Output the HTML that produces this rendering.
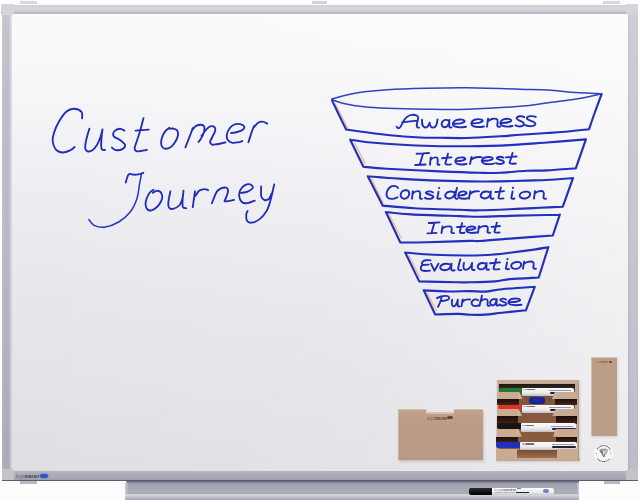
<!DOCTYPE html>
<html><head><meta charset="utf-8"><style>
html,body{margin:0;padding:0;width:640px;height:501px;overflow:hidden;background:#fdfdfd;font-family:"Liberation Sans",sans-serif;}
.a{position:absolute;}
#board{left:11px;top:14px;width:618px;height:458px;background:linear-gradient(180deg,#fafafc 0%,#f9f9fb 9%,#eeeef2 38%,#e6e6eb 64%,#e0e0e5 90%,#dedee3 100%);}
#hl{left:11px;top:14px;width:618px;height:458px;background:linear-gradient(90deg,rgba(255,255,255,0) 0%,rgba(255,255,255,0.12) 50%,rgba(255,255,255,0.42) 100%);}
.fr{background:#cbccd4;}
</style></head><body>
<!-- top tabs -->
<div class="a" style="left:20px;top:1px;width:17px;height:3px;background:#d8d8dc;"></div>
<div class="a" style="left:603px;top:1px;width:17px;height:3px;background:#d8d8dc;"></div>
<div id="board" class="a"></div>
<div id="hl" class="a"></div>
<!-- frame -->
<div class="a" style="left:312px;top:1px;width:15px;height:3px;background:#d2d2d8;"></div>
<div class="a" style="left:1px;top:4.5px;width:637px;height:9.5px;background:linear-gradient(180deg,#d0d0da 0%,#d5d5de 35%,#d0d0da 65%,#bdbdc9 85%,#b5b5c1 100%);"></div>
<div class="a" style="left:1.7px;top:4px;width:10px;height:477px;background:linear-gradient(90deg,rgba(255,255,255,0.1) 0%,rgba(255,255,255,0) 30%,rgba(255,255,255,0) 68%,rgba(255,255,255,0.4) 90%,rgba(255,255,255,0.45) 100%),linear-gradient(180deg,#c6c6d0 0%,#bdbdc9 20%,#b7b8c3 52%,#adaeb9 84%,#a9aab5 100%);"></div>
<div class="a" style="left:628px;top:4px;width:10px;height:477px;background:linear-gradient(90deg,rgba(0,0,0,0.07) 0%,rgba(0,0,0,0) 20%,rgba(0,0,0,0) 80%,rgba(0,0,0,0.02) 100%),linear-gradient(180deg,#cfcfd8 0%,#cbcbd5 15%,#c6c6d0 50%,#c0c0cc 84%,#bcbcc8 100%);"></div>
<div class="a" style="left:1.5px;top:471px;width:636.5px;height:9px;background:linear-gradient(180deg,#b4b6c1 0%,#aaacb8 30%,#a6a8b4 80%,#9a9ca8 100%);"></div>
<div class="a" style="left:1.5px;top:480px;width:636.5px;height:1.3px;background:#5a5d6d;"></div>
<!-- corners -->
<div class="a" style="left:1.5px;top:3.5px;width:12.5px;height:11.5px;background:#d4d4d9;border-bottom-right-radius:3px;"></div>
<div class="a" style="left:625.5px;top:3.5px;width:12.5px;height:11.5px;background:#d4d4d9;border-bottom-left-radius:3px;"></div>
<div class="a" style="left:1.5px;top:468.5px;width:12.5px;height:11.5px;background:#c3c4ca;border-top-right-radius:3px;"></div>
<div class="a" style="left:625.5px;top:468.5px;width:12.5px;height:11.5px;background:#c3c4ca;border-top-left-radius:3px;"></div>
<!-- bottom tabs -->
<div class="a" style="left:20px;top:481px;width:17px;height:3px;background:#b9bac1;"></div>
<div class="a" style="left:603.5px;top:481px;width:16px;height:3px;background:#b9bac1;"></div>
<!-- tray -->
<div class="a" style="left:125px;top:481px;width:454px;height:19px;clip-path:polygon(0.3% 0,100% 0,100% 100%,0 100%);background:linear-gradient(180deg,#5e6172 0%,#7c7f8e 6%,#a0a2ae 14%,#a6a8b4 40%,#aaacb7 62%,#a8aab5 68%,#cfd1d8 70%,#d2d4db 77%,#bfc1ca 84%,#b5b7c1 92%,#a0a2ad 100%);"></div>
<div class="a" style="left:125px;top:483px;width:3px;height:11px;background:linear-gradient(90deg,#c9cbd2,#b0b2bc);"></div>
<div class="a" style="left:576.5px;top:483px;width:2.5px;height:11px;background:linear-gradient(90deg,#b0b2bc,#d0d2d8);"></div>

<!-- eraser box -->
<div class="a" style="left:399px;top:410.5px;width:85px;height:51px;background:rgba(80,70,70,0.2);filter:blur(1px);"></div>
<div class="a" style="left:426.3px;top:407px;width:27.7px;height:5.5px;background:#e7e7eb;"></div>
<div class="a" style="left:397.5px;top:408.6px;width:85.5px;height:51.6px;background:linear-gradient(180deg,#c2a38d 0%,#bc9c86 20%,#bb9b85 80%,#b89882 100%);clip-path:polygon(0 0,33.6% 0,33.6% 7.6%,66% 7.6%,66% 0,100% 0,100% 100%,0 100%);"></div>
<div class="a" style="left:397.5px;top:408.6px;width:28.8px;height:1px;background:#d6bea9;"></div>
<div class="a" style="left:454px;top:408.6px;width:29px;height:1px;background:#d6bea9;"></div>
<div class="a" style="left:426.3px;top:412.5px;width:27.7px;height:1px;background:#d8c0aa;"></div>
<div class="a" style="left:397.5px;top:408.6px;width:1px;height:51.6px;background:#cbb09a;"></div>
<div class="a" style="left:426.5px;top:416.2px;font-size:4.6px;line-height:5px;letter-spacing:-0.1px;color:#5e4436;white-space:nowrap;opacity:0.95;transform:scaleX(0.9);transform-origin:0 0;"><span style="opacity:0.6">lega</span><b>master</b></div>
<div class="a" style="left:447px;top:416.3px;width:6px;height:3px;border-radius:50%;background:#5a4035;"></div>
<!-- right plate -->
<div class="a" style="left:590.5px;top:356.5px;width:26.5px;height:79px;background:#bc9e88;box-shadow:1px 1px 2px rgba(0,0,0,0.12);"></div>
<div class="a" style="left:590.5px;top:356.5px;width:26.5px;height:1px;background:#dcc6b2;"></div>
<div class="a" style="left:590.5px;top:356.5px;width:1px;height:79px;background:#d4bca6;"></div>
<div class="a" style="left:596px;top:361.2px;font-size:3.2px;line-height:3.5px;color:#6a4e40;white-space:nowrap;opacity:0.85;transform:scaleX(0.76);transform-origin:0 0;"><span style="opacity:0.6">lega</span><b>master</b></div>
<div class="a" style="left:608.6px;top:360.6px;width:3.6px;height:2.2px;border-radius:50%;background:#5a4035;"></div>
<!-- sticker -->
<svg class="a" style="left:590px;top:440px" width="28" height="28" viewBox="590 440 28 28">
<ellipse cx="603.8" cy="453.8" rx="10.6" ry="10.2" fill="#d8d8dc" opacity="0.6"/>
<ellipse cx="603.6" cy="453.6" rx="10.2" ry="9.9" fill="#f6f6f6"/>
<path d="M597.2,449.2 A7.4,7.2 0 0 1 610.2,449.4" fill="none" stroke="#6a6a6a" stroke-width="1.1" stroke-dasharray="1.3 0.5"/>
<path d="M597.6,458.6 A7.4,7.2 0 0 0 609.8,458.4" fill="none" stroke="#6a6a6a" stroke-width="1.1" stroke-dasharray="1.3 0.5"/>
<circle cx="596.3" cy="453.5" r="0.5" fill="#777"/><circle cx="611" cy="453.3" r="0.5" fill="#777"/>
<circle cx="596.9" cy="455.8" r="0.4" fill="#888"/><circle cx="610.5" cy="451.2" r="0.4" fill="#888"/>
<path d="M599.8,450.2 L601.6,449.2 L606,449.2 L607.6,450.4 L603.8,457 Z" fill="#e8ece8" stroke="#3d3d3d" stroke-width="0.6"/>
<path d="M599.8,450.2 L602.4,450.6 L603.8,457 Z" fill="#4d7a56"/>
<path d="M602.4,450.6 L605.2,450.6 L603.8,457 M601.6,449.2 L602.4,450.6 M606,449.2 L605.2,450.6" fill="none" stroke="#555" stroke-width="0.4"/>
</svg>
<!-- marker holder -->
<div class="a" style="left:497px;top:381px;width:83px;height:81px;background:rgba(60,50,50,0.18);filter:blur(1px);"></div>
<div class="a" style="left:496px;top:379.7px;width:83px;height:81.3px;background:#c4a68f;clip-path:polygon(2% 0,97.5% 0,100% 100%,0 100%);"></div>
<div class="a" style="left:499px;top:383.5px;width:75.5px;height:74.5px;background:linear-gradient(180deg,#74482f,#86583d 30%,#8a5c40 100%);"></div>
<div class="a" style="left:499px;top:383.5px;width:75.5px;height:5px;background:linear-gradient(180deg,#1e1612,#3a2a20);"></div>
<div class="a" style="left:499px;top:388px;width:23.5px;height:4.6px;background:#1f7a30;border-radius:2px 0 0 2px;"></div>
<div class="a" style="left:521.5px;top:387.5px;width:52.5px;height:8.2px;background:linear-gradient(180deg,#fbfbfb 0%,#eeeef0 55%,#d4d4d8 85%,#b8b8bc 100%);border-radius:1px 2px 2px 1px;"></div>
<div class="a" style="left:523.0px;top:389.1px;width:12px;height:1.3px;background:linear-gradient(90deg,#b0b0b8 0 30%,#707078 30%);"></div>
<div class="a" style="left:549px;top:389.7px;width:22px;height:1.1px;background:#8d96d4;"></div>
<div class="a" style="left:549.5px;top:391.8px;width:7px;height:1.8px;background:#232325;border-radius:1px;"></div>
<div class="a" style="left:497.6px;top:392px;width:20.7px;height:7.0px;background:#c9ab94;"></div>
<div class="a" style="left:517.8px;top:392px;width:5px;height:7.0px;background:linear-gradient(90deg,#d6bca6,#b89a82);clip-path:polygon(0 0,30% 0,100% 100%,0 100%);"></div>
<div class="a" style="left:555.7px;top:392px;width:21.3px;height:7.0px;background:#c9ab94;"></div>
<div class="a" style="left:551.7px;top:392px;width:4.5px;height:7.0px;background:linear-gradient(90deg,#b89a82,#d2b8a2);clip-path:polygon(70% 0,100% 0,100% 100%,0 100%);"></div>
<div class="a" style="left:497.2px;top:399px;width:21.8px;height:6.0px;background:linear-gradient(180deg,#1a0e0a,#321810 60%,#4a2618);"></div>
<div class="a" style="left:555px;top:399px;width:21.6px;height:6.0px;background:linear-gradient(180deg,#1a0e0a,#34190f 60%,#4e2a1c);"></div>
<div class="a" style="left:498px;top:404.5px;width:24.5px;height:4.7px;background:#e0321e;border-radius:2px 0 0 2px;"></div>
<div class="a" style="left:521.5px;top:404.5px;width:52.5px;height:8.7px;background:linear-gradient(180deg,#fbfbfb 0%,#eeeef0 55%,#d4d4d8 85%,#b8b8bc 100%);border-radius:1px 2px 2px 1px;"></div>
<div class="a" style="left:523.0px;top:406.1px;width:12px;height:1.3px;background:linear-gradient(90deg,#b0b0b8 0 30%,#707078 30%);"></div>
<div class="a" style="left:549px;top:406.7px;width:22px;height:1.1px;background:#8d96d4;"></div>
<div class="a" style="left:549.5px;top:408.8px;width:7px;height:1.8px;background:#232325;border-radius:1px;"></div>
<div class="a" style="left:497.2px;top:409.4px;width:20.8px;height:7.0px;background:#c9ab94;"></div>
<div class="a" style="left:517.5px;top:409.4px;width:5px;height:7.0px;background:linear-gradient(90deg,#d6bca6,#b89a82);clip-path:polygon(0 0,30% 0,100% 100%,0 100%);"></div>
<div class="a" style="left:556px;top:409.4px;width:21.6px;height:7.0px;background:#c9ab94;"></div>
<div class="a" style="left:552px;top:409.4px;width:4.5px;height:7.0px;background:linear-gradient(90deg,#b89a82,#d2b8a2);clip-path:polygon(70% 0,100% 0,100% 100%,0 100%);"></div>
<div class="a" style="left:496.6px;top:416.4px;width:21.9px;height:7.4px;background:linear-gradient(180deg,#1a0e0a,#321810 60%,#4a2618);"></div>
<div class="a" style="left:555.7px;top:416.4px;width:21.8px;height:7.4px;background:linear-gradient(180deg,#1a0e0a,#34190f 60%,#4e2a1c);"></div>
<div class="a" style="left:496.8px;top:423.3px;width:24.7px;height:5.5px;background:#161616;border-radius:2px 0 0 2px;"></div>
<div class="a" style="left:520.5px;top:423.3px;width:55.9px;height:8.3px;background:linear-gradient(180deg,#fbfbfb 0%,#eeeef0 55%,#d4d4d8 85%,#b8b8bc 100%);border-radius:1px 2px 2px 1px;"></div>
<div class="a" style="left:522.0px;top:424.90000000000003px;width:12px;height:1.3px;background:linear-gradient(90deg,#b0b0b8 0 30%,#707078 30%);"></div>
<div class="a" style="left:551.4px;top:425.5px;width:22px;height:1.1px;background:#8d96d4;"></div>
<div class="a" style="left:551.9px;top:427.6px;width:24px;height:2.2px;background:#232325;border-radius:1px;"></div>
<div class="a" style="left:496.6px;top:428.9px;width:20.9px;height:7.8px;background:#c9ab94;"></div>
<div class="a" style="left:517.0px;top:428.9px;width:5px;height:7.8px;background:linear-gradient(90deg,#d6bca6,#b89a82);clip-path:polygon(0 0,30% 0,100% 100%,0 100%);"></div>
<div class="a" style="left:556.7px;top:428.9px;width:21.8px;height:7.8px;background:#c9ab94;"></div>
<div class="a" style="left:552.7px;top:428.9px;width:4.5px;height:7.8px;background:linear-gradient(90deg,#b89a82,#d2b8a2);clip-path:polygon(70% 0,100% 0,100% 100%,0 100%);"></div>
<div class="a" style="left:496px;top:436.7px;width:22.0px;height:6.0px;background:linear-gradient(180deg,#1a0e0a,#321810 60%,#4a2618);"></div>
<div class="a" style="left:555.7px;top:436.7px;width:22.3px;height:6.0px;background:linear-gradient(180deg,#1a0e0a,#34190f 60%,#4e2a1c);"></div>
<div class="a" style="left:495.8px;top:442.2px;width:25.2px;height:5.6px;background:#1f30c0;border-radius:2px 0 0 2px;"></div>
<div class="a" style="left:520px;top:441.7px;width:56.6px;height:8.7px;background:linear-gradient(180deg,#fbfbfb 0%,#eeeef0 55%,#d4d4d8 85%,#b8b8bc 100%);border-radius:1px 2px 2px 1px;"></div>
<div class="a" style="left:521.5px;top:443.3px;width:12px;height:1.3px;background:linear-gradient(90deg,#b0b0b8 0 30%,#707078 30%);"></div>
<div class="a" style="left:551.6px;top:443.9px;width:22px;height:1.1px;background:#8d96d4;"></div>
<div class="a" style="left:552.1px;top:446.0px;width:24px;height:2.2px;background:#232325;border-radius:1px;"></div>
<div class="a" style="left:496px;top:448.6px;width:21.0px;height:9.2px;background:#c9ab94;"></div>
<div class="a" style="left:516.5px;top:448.6px;width:5px;height:9.2px;background:linear-gradient(90deg,#d6bca6,#b89a82);clip-path:polygon(0 0,30% 0,100% 100%,0 100%);"></div>
<div class="a" style="left:556.7px;top:448.6px;width:22.3px;height:9.2px;background:#c9ab94;"></div>
<div class="a" style="left:552.7px;top:448.6px;width:4.5px;height:9.2px;background:linear-gradient(90deg,#b89a82,#d2b8a2);clip-path:polygon(70% 0,100% 0,100% 100%,0 100%);"></div>
<div class="a" style="left:529px;top:396.5px;width:15.5px;height:7.5px;background:radial-gradient(ellipse at 50% 40%,#1c2cb0,#141f80);border-radius:3px;"></div>
<div class="a" style="left:517px;top:450.4px;width:40px;height:7.4px;background:linear-gradient(180deg,#7a4c34,#9a6e52);"></div>
<div class="a" style="left:495.5px;top:457.8px;width:84px;height:3.2px;background:#c7a991;"></div>
<div class="a" style="left:576.5px;top:380px;width:2.5px;height:80px;background:linear-gradient(90deg,#c8aa93,#b4967f);"></div>
<div class="a" style="left:496.5px;top:379.7px;width:81px;height:3.5px;background:#cbae97;"></div>
<!-- logo bottom-left -->
<div class="a" style="left:16.2px;top:472.6px;font-size:5.6px;line-height:6px;letter-spacing:-0.15px;color:#3a3b44;white-space:nowrap;opacity:0.95;transform:scaleX(0.85);transform-origin:0 0;"><span style="color:#6a6b76">lega</span><b>master</b></div>
<div class="a" style="left:40.2px;top:473.8px;width:7.6px;height:3.8px;border-radius:2px;background:#3456cc;box-shadow:0 0 0 0.5px #6f86d8;"></div>
<!-- marker in tray -->
<div class="a" style="left:468.6px;top:488px;width:24px;height:6.5px;background:linear-gradient(180deg,#2a2a2a,#111 60%,#000);border-radius:2px 0 0 2px;"></div>
<div class="a" style="left:492px;top:487.8px;width:62px;height:6.8px;background:linear-gradient(180deg,#fdfdfd,#ececef 60%,#c8c8ce);border-radius:0 2.5px 2.5px 0;"></div>
<div class="a" style="left:493.6px;top:488.4px;font-size:3.8px;line-height:4px;color:#555;white-space:nowrap;opacity:0.9;transform:scaleX(1.15);transform-origin:0 0;"><span style="color:#999">lega</span><b>master</b></div>
<div class="a" style="left:494px;top:492.2px;width:21px;height:0.8px;background:#b8b8be;"></div>
<div class="a" style="left:517px;top:488.3px;width:3.5px;height:1px;background:#6d7ad0;"></div>
<div class="a" style="left:516.3px;top:492px;width:12.5px;height:1.3px;background:#222;"></div>
<div class="a" style="left:542.8px;top:489px;width:6px;height:3.8px;border-radius:50%;background:#4466cc;opacity:0.8;"></div>
<svg class="a" style="left:0;top:0" width="640" height="501" viewBox="0 0 640 501">
<g fill="none" stroke-linecap="round" stroke-linejoin="round">
<path d="M335.20,103.75 L347.70,128.00 M354.80,143.30 L365.00,163.60 M371.25,178.60 L383.10,202.80 M389.40,215.20 L401.10,237.80 M409.00,255.60 L420.00,277.50 M427.00,293.10 L436.30,310.60" stroke="#ecbf96" stroke-width="1.5"/>
<path d="M332.00,98.80 C336.04,97.83 347.00,94.50 356.25,93.00 C365.50,91.50 376.04,90.58 387.50,89.80 C398.96,89.02 411.77,88.63 425.00,88.30 C438.23,87.97 451.07,87.65 466.90,87.80 C482.73,87.95 506.47,88.83 520.00,89.20 C533.53,89.57 538.73,89.43 548.10,90.00 C557.48,90.57 568.05,92.02 576.25,92.60 C584.45,93.18 593.07,93.25 597.30,93.50 C601.52,93.75 600.88,94.00 601.60,94.10 M332.00,99.80 C333.96,100.42 338.42,102.33 343.75,103.50 C349.08,104.67 356.71,106.00 364.00,106.80 C371.29,107.60 377.33,107.90 387.50,108.30 C397.67,108.70 411.77,109.03 425.00,109.20 C438.23,109.37 451.07,109.78 466.90,109.30 C482.73,108.82 506.47,107.40 520.00,106.30 C533.53,105.20 538.73,103.90 548.10,102.70 C557.48,101.50 568.75,100.25 576.25,99.10 C583.75,97.95 588.98,96.65 593.10,95.80 C597.23,94.95 599.68,94.30 601.00,94.00" stroke="#3340c2" stroke-width="1.55"/>
<path d="M332.00,100.40 C333.17,102.83 336.65,110.15 339.00,115.00 C341.35,119.85 344.92,127.08 346.10,129.50 M346.10,129.50 C349.08,129.92 357.10,131.08 364.00,132.00 C370.90,132.92 378.17,134.08 387.50,135.00 C396.83,135.92 411.25,137.03 420.00,137.50 C428.75,137.97 432.17,137.72 440.00,137.80 C447.83,137.88 457.00,138.25 467.00,138.00 C477.00,137.75 491.17,136.83 500.00,136.30 C508.83,135.77 512.17,135.35 520.00,134.80 C527.83,134.25 540.00,133.47 547.00,133.00 C554.00,132.53 555.00,132.63 562.00,132.00 C569.00,131.37 584.50,129.67 589.00,129.20 M601.60,94.10 C600.50,97.08 597.10,106.15 595.00,112.00 C592.90,117.85 590.00,126.33 589.00,129.20 M350.20,139.70 C353.71,140.17 362.53,141.65 371.25,142.50 C379.97,143.35 391.04,144.18 402.50,144.80 C413.96,145.42 423.75,146.07 440.00,146.20 C456.25,146.33 482.18,146.22 500.00,145.60 C517.82,144.98 532.58,143.53 546.90,142.50 C561.22,141.47 579.40,139.92 585.90,139.40 M350.20,139.70 L363.40,166.70 M363.40,166.70 C367.32,167.04 374.13,167.97 386.90,168.75 C399.67,169.53 424.48,170.72 440.00,171.40 C455.52,172.08 470.00,172.57 480.00,172.80 C490.00,173.03 492.18,173.13 500.00,172.80 C507.82,172.47 519.08,171.20 526.90,170.80 C534.72,170.40 538.75,170.82 546.90,170.40 C555.05,169.98 570.98,168.65 575.80,168.30 M585.90,139.40 L575.80,168.30 M367.80,176.25 C373.00,176.64 386.97,177.88 399.00,178.60 C411.03,179.32 426.50,180.12 440.00,180.60 C453.50,181.08 470.00,181.37 480.00,181.50 C490.00,181.63 492.18,181.55 500.00,181.40 C507.82,181.25 519.08,180.83 526.90,180.60 C534.72,180.37 539.22,180.42 546.90,180.00 C554.58,179.58 568.65,178.42 573.00,178.10 M367.80,176.25 L382.70,205.60 M382.70,205.60 C388.03,206.05 401.82,207.60 414.70,208.30 C427.58,209.00 449.12,209.47 460.00,209.80 C470.88,210.13 470.52,210.45 480.00,210.30 C489.48,210.15 506.90,209.32 516.90,208.90 C526.90,208.48 532.35,208.17 540.00,207.80 C547.65,207.43 559.00,206.88 562.80,206.70 M573.00,178.10 L562.80,206.70 M385.90,212.00 C390.12,212.40 398.90,213.72 411.25,214.40 C423.60,215.08 448.54,215.72 460.00,216.10 C471.46,216.48 470.52,216.78 480.00,216.70 C489.48,216.62 503.60,215.93 516.90,215.60 C530.20,215.27 552.65,214.85 559.80,214.70 M385.90,212.00 L400.30,242.50 M400.30,242.50 C404.73,242.45 415.28,242.47 426.90,242.20 C438.52,241.93 461.15,241.10 470.00,240.90 C478.85,240.70 472.18,241.47 480.00,241.00 C487.82,240.53 504.77,239.02 516.90,238.10 C529.03,237.18 546.82,235.93 552.80,235.50 M559.80,214.70 L552.80,235.50 M405.20,252.50 C410.00,252.88 423.20,254.30 434.00,254.80 C444.80,255.30 459.83,255.57 470.00,255.50 C480.17,255.43 488.35,254.85 495.00,254.40 C501.65,253.95 503.42,253.60 509.90,252.80 C516.38,252.00 527.50,250.53 533.90,249.60 C540.30,248.67 545.90,247.60 548.30,247.20 M405.20,252.50 L419.20,281.40 M419.20,281.40 C425.58,281.53 449.03,282.05 457.50,282.20 C465.97,282.35 463.75,282.43 470.00,282.30 C476.25,282.17 488.35,281.93 495.00,281.40 C501.65,280.87 502.62,279.75 509.90,279.10 C517.18,278.45 533.90,277.77 538.70,277.50 M548.30,247.20 L538.70,277.50 M423.75,290.40 C427.76,290.58 440.09,291.38 447.80,291.50 C455.51,291.62 463.80,291.08 470.00,291.10 C476.20,291.12 479.67,291.92 485.00,291.60 C490.33,291.28 493.72,290.00 502.00,289.20 C510.28,288.40 529.25,287.20 534.70,286.80 M423.75,290.40 L435.20,314.50 M435.20,314.50 C439.12,314.40 452.95,313.85 458.75,313.90 C464.55,313.95 465.62,314.68 470.00,314.80 C474.38,314.92 479.67,314.95 485.00,314.60 C490.33,314.25 495.18,313.42 502.00,312.70 C508.82,311.98 521.92,310.70 525.90,310.30 M534.70,286.80 L525.90,310.30" stroke="#2230bc" stroke-width="2.15"/>
<path d="M141.40,174.10 C141.08,175.82 140.25,180.30 139.50,184.40 C138.75,188.50 138.42,194.15 136.90,198.70 C135.38,203.25 133.43,207.82 130.40,211.70 C127.37,215.58 123.03,219.42 118.70,222.00 C114.37,224.58 108.50,226.65 104.40,227.20 C100.30,227.75 96.68,226.58 94.10,225.30 C91.52,224.02 89.77,220.47 88.90,219.50" stroke="#2636bc" stroke-width="1.5"/>
<path d="M82.10,118.40 C82.00,117.30 82.85,113.41 81.50,111.80 C80.15,110.19 76.50,108.80 74.00,108.75 C71.50,108.70 69.00,109.38 66.50,111.50 C64.00,113.62 61.08,117.96 59.00,121.50 C56.92,125.04 55.04,129.42 54.00,132.75 C52.96,136.08 52.43,138.69 52.75,141.50 C53.07,144.31 54.23,147.77 55.90,149.60 C57.57,151.43 60.36,152.39 62.75,152.50 C65.14,152.61 68.28,151.15 70.25,150.25 C72.22,149.35 73.88,147.62 74.60,147.10 M89.40,128.75 C89.03,129.96 87.83,133.62 87.20,136.00 C86.57,138.38 85.92,140.92 85.60,143.00 C85.28,145.08 84.98,147.12 85.30,148.50 C85.62,149.88 86.38,150.92 87.50,151.25 C88.62,151.58 90.42,151.54 92.00,150.50 C93.58,149.46 95.58,147.25 97.00,145.00 C98.42,142.75 99.58,139.60 100.50,137.00 C101.42,134.40 102.17,130.67 102.50,129.40 M102.50,129.40 C102.33,130.83 101.72,135.23 101.50,138.00 C101.28,140.77 101.12,144.08 101.20,146.00 C101.28,147.92 101.37,148.83 102.00,149.50 C102.63,150.17 104.50,149.92 105.00,150.00 M124.40,130.60 C123.67,130.29 121.67,128.64 120.00,128.75 C118.33,128.86 115.44,130.00 114.40,131.25 C113.36,132.50 112.82,134.79 113.75,136.25 C114.68,137.71 118.12,138.54 120.00,140.00 C121.88,141.46 124.68,143.43 125.00,145.00 C125.32,146.57 123.47,148.57 121.90,149.40 C120.33,150.23 117.27,150.32 115.60,150.00 C113.93,149.68 112.52,147.92 111.90,147.50 M143.50,118.10 C142.92,120.29 141.17,127.27 140.00,131.25 C138.83,135.23 137.40,139.12 136.50,142.00 C135.60,144.88 134.60,146.97 134.60,148.50 C134.60,150.03 135.43,150.78 136.50,151.20 C137.57,151.62 139.27,151.20 141.00,151.00 C142.73,150.80 145.92,150.17 146.90,150.00 M135.60,130.60 L148.75,129.60 M169.40,127.80 C168.83,128.25 166.98,129.47 166.00,130.50 C165.02,131.53 164.27,132.42 163.50,134.00 C162.73,135.58 161.73,138.08 161.40,140.00 C161.07,141.92 160.98,144.07 161.50,145.50 C162.02,146.93 163.00,148.30 164.50,148.60 C166.00,148.90 168.72,148.40 170.50,147.30 C172.28,146.20 173.97,143.97 175.20,142.00 C176.43,140.03 177.57,137.40 177.90,135.50 C178.23,133.60 177.93,131.75 177.20,130.60 C176.47,129.45 174.77,128.90 173.50,128.60 C172.23,128.30 170.25,128.77 169.60,128.80 M185.40,147.30 C185.88,146.08 187.37,142.38 188.30,140.00 C189.23,137.62 190.28,134.97 191.00,133.00 C191.72,131.03 192.33,129.00 192.60,128.20 M191.75,130.75 C192.38,130.00 194.12,127.25 195.50,126.25 C196.88,125.25 198.68,124.88 200.00,124.75 C201.32,124.62 202.65,124.88 203.40,125.50 C204.15,126.12 204.50,127.12 204.50,128.50 C204.50,129.88 204.03,132.00 203.40,133.75 C202.78,135.50 201.57,137.62 200.75,139.00 C199.93,140.38 198.88,141.50 198.50,142.00 M201.50,136.00 C202.12,135.12 204.00,132.25 205.25,130.75 C206.50,129.25 207.75,127.75 209.00,127.00 C210.25,126.25 211.75,126.12 212.75,126.25 C213.75,126.38 214.62,126.88 215.00,127.75 C215.38,128.62 215.50,129.88 215.00,131.50 C214.50,133.12 212.82,135.75 212.00,137.50 C211.18,139.25 210.10,140.82 210.10,142.00 C210.10,143.18 210.93,144.22 212.00,144.60 C213.07,144.97 214.75,144.50 216.50,144.25 C218.25,144.00 221.00,143.41 222.50,143.10 C224.00,142.79 225.00,142.52 225.50,142.40 M231.10,133.00 C232.12,132.83 235.25,132.55 237.20,132.00 C239.15,131.45 241.63,130.63 242.80,129.70 C243.97,128.77 244.67,127.33 244.20,126.40 C243.73,125.47 241.63,124.42 240.00,124.10 C238.37,123.78 236.12,123.80 234.40,124.50 C232.68,125.20 230.95,126.65 229.70,128.30 C228.45,129.95 227.22,132.45 226.90,134.40 C226.58,136.35 226.87,138.60 227.80,140.00 C228.73,141.40 230.78,142.42 232.50,142.80 C234.22,143.18 236.47,142.60 238.10,142.30 C239.73,142.00 241.60,141.22 242.30,141.00 M248.40,142.30 C248.88,140.82 250.32,136.12 251.25,133.40 C252.18,130.68 253.54,127.23 254.00,126.00 M253.60,127.50 C254.30,126.75 256.32,123.97 257.80,123.00 C259.28,122.03 260.93,121.60 262.50,121.70 C264.07,121.80 266.42,123.28 267.20,123.60 M125.80,182.50 C126.03,181.67 126.65,178.90 127.20,177.50 C127.75,176.10 127.92,174.57 129.10,174.10 C130.28,173.63 132.57,174.70 134.30,174.70 C136.03,174.70 138.00,174.42 139.50,174.10 C141.00,173.78 142.67,173.02 143.30,172.80 M153.50,189.80 C152.83,190.33 150.67,191.47 149.50,193.00 C148.33,194.53 147.15,197.00 146.50,199.00 C145.85,201.00 145.43,203.25 145.60,205.00 C145.77,206.75 146.52,208.62 147.50,209.50 C148.48,210.38 149.92,210.72 151.50,210.30 C153.08,209.88 155.42,208.47 157.00,207.00 C158.58,205.53 160.12,203.25 161.00,201.50 C161.88,199.75 162.38,198.08 162.30,196.50 C162.22,194.92 161.47,192.95 160.50,192.00 C159.53,191.05 157.78,190.67 156.50,190.80 C155.22,190.93 153.42,192.47 152.80,192.80 M170.40,191.30 C170.07,193.03 168.65,199.00 168.40,201.70 C168.15,204.40 168.12,206.32 168.90,207.50 C169.68,208.68 171.30,209.22 173.10,208.80 C174.90,208.38 178.15,206.73 179.70,205.00 C181.25,203.27 181.77,200.77 182.40,198.40 C183.03,196.03 183.32,192.07 183.50,190.80 M183.50,190.80 C183.33,192.62 182.58,198.97 182.50,201.70 C182.42,204.43 182.38,206.10 183.00,207.20 C183.62,208.30 185.71,208.12 186.25,208.30 M195.00,191.30 C194.82,192.58 194.27,196.35 193.90,199.00 C193.53,201.65 192.98,205.83 192.80,207.20 M195.30,196.00 C195.98,195.10 197.82,191.75 199.40,190.60 C200.98,189.45 203.35,189.17 204.80,189.10 C206.25,189.03 207.55,190.02 208.10,190.20 M211.90,203.20 C212.45,201.80 214.22,196.95 215.20,194.80 C216.18,192.65 217.37,191.05 217.80,190.30 M217.50,191.00 C218.08,190.55 219.55,188.85 221.00,188.30 C222.45,187.75 225.02,187.27 226.20,187.70 C227.38,188.13 228.10,189.28 228.10,190.90 C228.10,192.52 226.78,195.67 226.20,197.40 C225.62,199.13 224.07,200.73 224.60,201.30 C225.13,201.87 227.83,201.02 229.40,200.80 C230.97,200.58 233.23,200.13 234.00,200.00 M241.10,192.90 C242.18,192.68 245.65,192.47 247.60,191.60 C249.55,190.73 252.37,188.90 252.80,187.70 C253.23,186.50 251.50,184.83 250.20,184.40 C248.90,183.97 246.62,184.23 245.00,185.10 C243.38,185.97 241.47,187.77 240.50,189.60 C239.53,191.43 238.98,194.03 239.20,196.10 C239.42,198.17 240.40,200.82 241.80,202.00 C243.20,203.18 245.45,203.43 247.60,203.20 C249.75,202.97 253.52,201.03 254.70,200.60 M261.20,186.40 C261.20,188.02 260.67,193.83 261.20,196.10 C261.73,198.37 263.10,199.57 264.40,200.00 C265.70,200.43 267.80,199.78 269.00,198.70 C270.20,197.62 271.17,194.37 271.60,193.50 M274.20,184.40 C273.65,186.78 272.10,194.37 270.90,198.70 C269.70,203.03 268.93,206.95 267.00,210.40 C265.07,213.85 261.88,217.35 259.30,219.40 C256.72,221.45 253.55,222.48 251.50,222.70 C249.45,222.92 247.87,222.10 247.00,220.70 C246.13,219.30 246.20,215.92 246.30,214.30 C246.40,212.68 247.38,211.55 247.60,211.00" stroke="#1f2db8" stroke-width="1.85"/>
<path d="M396.70,126.59 C397.01,128.11 398.55,128.35 399.57,127.87 C401.10,126.51 402.64,122.51 404.38,119.79 C406.22,117.31 408.77,114.91 411.84,114.83 C414.91,114.67 418.49,115.71 418.18,117.71 C417.98,120.11 416.75,123.31 416.75,125.71 C416.75,127.31 417.77,127.71 419.00,127.63 M402.12,122.35 C406.73,121.71 411.84,121.07 417.47,120.59 M422.00,119.75 C422.00,123.75 422.00,126.95 425.04,127.51 C427.32,127.91 428.84,125.35 429.60,122.55 C429.90,125.35 430.81,127.75 433.40,127.59 C436.44,127.35 437.20,122.95 437.50,119.35 M449.15,121.48 C447.62,119.08 443.03,119.08 441.81,123.08 C440.99,126.28 444.05,128.12 446.60,126.68 C448.44,125.48 449.15,122.68 449.46,119.88 C449.26,122.68 449.05,125.88 449.46,127.08 C449.87,127.72 450.68,127.64 451.50,127.32 M453.25,123.67 C457.00,123.83 462.25,123.27 464.50,121.67 C465.25,119.67 460.00,118.87 456.25,120.07 C452.50,121.27 451.75,124.87 454.75,126.47 C457.75,127.75 462.25,127.43 466.00,126.79 M471.72,123.36 C475.33,123.52 480.39,122.96 482.56,121.36 C483.28,119.36 478.22,118.56 474.61,119.76 C471.00,120.96 470.28,124.56 473.17,126.16 C476.06,127.44 480.39,127.12 484.00,126.48 M487.00,126.70 C487.27,124.30 487.68,121.10 488.09,118.70 M487.82,121.50 C489.74,119.10 493.84,118.06 496.58,118.86 C498.63,119.66 497.26,123.50 497.26,125.50 C497.26,126.70 498.63,126.94 500.00,126.70 M500.69,122.89 C504.17,123.05 509.03,122.49 511.11,120.89 C511.81,118.89 506.94,118.09 503.47,119.29 C500.00,120.49 499.31,124.09 502.08,125.69 C504.86,126.97 509.03,126.65 512.50,126.01 M524.27,117.06 C522.25,115.86 517.19,115.86 516.62,118.26 C516.17,120.26 523.38,121.06 523.94,123.70 C524.50,126.02 520.56,126.66 518.31,126.34 C517.19,126.18 516.17,125.78 515.50,125.30 M535.74,116.89 C533.38,115.69 527.47,115.69 526.81,118.09 C526.29,120.09 534.69,120.89 535.34,123.53 C536.00,125.85 531.41,126.49 528.78,126.17 C527.47,126.01 526.29,125.61 525.50,125.13 M416.58,153.74 C420.72,153.53 424.86,153.24 429.00,153.02 M423.20,153.38 C422.10,156.98 420.72,161.30 419.75,164.90 M415.20,165.05 C418.65,164.90 422.79,164.69 425.55,164.47 M430.00,164.73 C430.20,162.57 430.50,159.69 430.80,157.53 M430.60,160.05 C432.00,157.89 435.00,156.95 437.00,157.67 C438.50,158.39 437.50,161.85 437.50,163.65 C437.50,164.73 438.50,164.95 439.50,164.73 M447.94,153.76 C447.11,157.36 445.80,160.96 445.32,163.48 C445.21,164.78 447.94,164.71 450.91,164.35 M442.00,158.23 C444.97,157.94 448.53,157.65 451.50,157.36 M455.64,161.13 C458.83,161.27 463.31,160.77 465.22,159.33 C465.86,157.53 461.39,156.81 458.19,157.89 C455.00,158.97 454.36,162.21 456.92,163.65 C459.47,164.80 463.31,164.51 466.50,163.94 M470.00,164.16 C470.46,162.00 470.92,159.48 471.53,156.96 M471.23,159.84 C473.07,157.68 476.90,156.60 481.50,157.11 M482.19,160.76 C485.67,160.90 490.53,160.40 492.61,158.96 C493.31,157.16 488.44,156.44 484.97,157.52 C481.50,158.60 480.81,161.84 483.58,163.28 C486.36,164.43 490.53,164.14 494.00,163.57 M503.47,157.71 C501.87,156.41 497.60,156.27 496.85,157.92 C496.32,159.51 502.93,159.87 503.79,161.67 C504.53,163.47 500.80,164.19 498.67,163.90 C497.60,163.76 496.64,163.40 496.00,162.96 M512.56,152.87 C511.64,156.47 510.20,160.07 509.68,162.59 C509.54,163.89 512.56,163.82 515.84,163.46 M506.00,157.34 C509.28,157.05 513.22,156.76 516.50,156.47 M398.00,187.99 C397.48,186.15 393.82,185.19 391.20,186.39 C388.07,187.99 385.98,192.39 386.71,195.59 C387.34,198.39 390.68,199.19 393.82,198.63 C395.39,198.31 396.43,197.83 397.48,197.19 M405.56,190.18 C402.19,190.18 400.27,193.19 400.73,195.77 C401.18,198.35 403.88,199.21 406.12,198.35 C408.94,197.06 409.84,193.62 408.71,191.47 C407.81,189.92 405.56,189.92 404.44,190.61 M412.00,198.76 C412.21,196.51 412.53,193.51 412.84,191.26 M412.63,193.89 C414.11,191.64 417.26,190.66 419.37,191.41 C420.95,192.16 419.89,195.76 419.89,197.64 C419.89,198.76 420.95,198.99 422.00,198.76 M432.93,192.37 C431.23,191.02 426.70,190.87 425.91,192.60 C425.34,194.25 432.37,194.62 433.27,196.50 C434.07,198.37 430.10,199.12 427.83,198.82 C426.70,198.67 425.68,198.30 425.00,197.85 M438.50,191.61 C438.19,194.23 437.58,196.48 437.27,198.13 C437.42,198.96 439.27,198.88 440.50,198.58 M438.96,187.78 L439.12,188.08 M454.77,193.09 C452.81,190.84 446.95,190.84 445.39,194.59 C444.35,197.59 448.26,199.32 451.51,197.97 C453.85,196.84 454.77,194.22 455.16,191.59 M456.98,187.84 C456.20,191.22 455.16,194.97 455.16,197.59 C455.16,198.72 456.46,198.94 457.50,198.72 M458.53,195.33 C461.17,195.48 464.86,194.95 466.44,193.45 C466.97,191.58 463.28,190.83 460.64,191.95 C458.00,193.08 457.47,196.45 459.58,197.95 C461.69,199.15 464.86,198.85 467.50,198.25 M469.00,198.69 C469.40,196.44 469.80,193.82 470.33,191.19 M470.07,194.19 C471.67,191.94 475.00,190.82 479.00,191.34 M490.45,193.05 C488.46,190.80 482.49,190.80 480.90,194.55 C479.84,197.55 483.82,199.27 487.13,197.92 C489.52,196.80 490.45,194.17 490.85,191.55 C490.58,194.17 490.32,197.17 490.85,198.30 C491.38,198.90 492.44,198.82 493.50,198.52 M500.81,187.41 C500.07,191.16 498.90,194.91 498.48,197.53 C498.37,198.88 500.81,198.81 503.47,198.43 M495.50,192.06 C498.16,191.76 501.34,191.46 504.00,191.16 M512.50,191.52 C512.19,194.14 511.58,196.39 511.27,198.04 C511.42,198.87 513.27,198.79 514.50,198.49 M512.96,187.69 L513.12,187.99 M525.69,191.63 C521.56,191.63 519.23,194.08 519.77,196.18 C520.33,198.28 523.62,198.98 526.38,198.28 C529.81,197.23 530.91,194.43 529.54,192.68 C528.44,191.42 525.69,191.42 524.31,191.98 M534.00,198.61 C534.25,196.36 534.63,193.36 535.01,191.11 M534.76,193.73 C536.53,191.48 540.32,190.51 542.84,191.26 C544.74,192.01 543.47,195.61 543.47,197.48 C543.47,198.61 544.74,198.83 546.00,198.61 M428.70,223.01 C432.30,222.81 435.90,222.55 439.50,222.35 M434.46,222.68 C433.50,225.98 432.30,229.94 431.46,233.24 M427.50,233.37 C430.50,233.24 434.10,233.04 436.50,232.85 M441.50,233.10 C441.76,231.12 442.16,228.48 442.55,226.50 M442.29,228.81 C444.13,226.83 448.08,225.98 450.71,226.64 C452.68,227.30 451.37,230.46 451.37,232.11 C451.37,233.10 452.68,233.30 454.00,233.10 M462.00,223.08 C461.30,226.38 460.20,229.68 459.80,231.99 C459.70,233.17 462.00,233.11 464.50,232.78 M457.00,227.17 C459.50,226.90 462.50,226.64 465.00,226.38 M466.58,229.91 C469.50,230.04 473.58,229.58 475.33,228.26 C475.92,226.61 471.83,225.95 468.92,226.94 C466.00,227.93 465.42,230.90 467.75,232.22 C470.08,233.27 473.58,233.01 476.50,232.48 M478.00,232.75 C478.25,230.77 478.63,228.13 479.01,226.15 M478.76,228.46 C480.53,226.48 484.32,225.63 486.84,226.29 C488.74,226.95 487.47,230.11 487.47,231.76 C487.47,232.75 488.74,232.95 490.00,232.75 M496.81,222.74 C496.07,226.04 494.90,229.34 494.48,231.65 C494.37,232.84 496.81,232.77 499.47,232.44 M491.50,226.83 C494.16,226.57 497.34,226.31 500.00,226.04 M430.50,260.39 C427.50,259.69 423.50,260.25 422.30,262.14 C421.50,263.54 422.30,264.73 422.50,264.94 M422.50,264.94 L428.50,264.66 M422.50,264.94 C420.50,266.34 420.00,269.49 422.00,270.47 C424.50,271.31 427.50,271.03 430.00,270.61 M431.00,263.69 C432.00,265.79 433.50,268.94 434.50,270.69 C435.80,268.59 437.50,265.79 438.50,263.69 M451.10,265.17 C448.88,263.07 442.22,263.07 440.44,266.57 C439.26,269.37 443.70,270.98 447.40,269.72 C450.06,268.67 451.10,266.22 451.54,263.77 C451.24,266.22 450.95,269.02 451.54,270.07 C452.13,270.63 453.32,270.56 454.50,270.28 M460.38,259.31 C459.50,262.46 458.25,266.66 458.12,269.11 C458.12,270.37 460.00,270.37 461.50,270.16 M463.97,262.96 C463.36,265.41 462.64,268.56 464.82,269.61 C467.24,270.52 470.87,268.21 472.08,262.96 C471.84,265.76 471.72,268.21 472.08,269.26 C472.44,270.10 473.65,270.10 474.50,269.96 M486.30,264.39 C484.54,262.29 479.26,262.29 477.85,265.79 C476.91,268.59 480.43,270.20 483.37,268.94 C485.48,267.89 486.30,265.44 486.65,262.99 C486.42,265.44 486.18,268.24 486.65,269.29 C487.12,269.85 488.06,269.78 489.00,269.50 M496.25,258.89 C495.38,262.39 494.00,265.89 493.50,268.34 C493.38,269.60 496.25,269.53 499.38,269.18 M490.00,263.23 C493.12,262.95 496.88,262.67 500.00,262.39 M507.00,262.48 C506.69,264.93 506.08,267.03 505.77,268.57 C505.92,269.34 507.77,269.27 509.00,268.99 M507.46,258.91 L507.62,259.19 M516.91,261.93 C512.97,261.93 510.74,264.38 511.26,266.48 C511.79,268.58 514.94,269.28 517.56,268.58 C520.84,267.53 521.89,264.73 520.58,262.98 C519.53,261.72 516.91,261.72 515.59,262.28 M523.00,268.64 C523.27,266.54 523.68,263.74 524.09,261.64 M523.82,264.09 C525.74,261.99 529.84,261.08 532.58,261.78 C534.63,262.48 533.26,265.84 533.26,267.59 C533.26,268.64 534.63,268.85 536.00,268.64 M437.00,298.17 C439.60,296.47 443.25,295.79 446.38,295.92 C449.50,296.26 450.02,298.51 447.94,299.66 C445.85,300.68 442.73,301.02 440.65,300.89 M441.69,297.15 C440.96,300.55 439.60,303.95 438.04,306.67 M452.17,299.61 C451.75,301.99 451.25,305.05 452.76,306.07 C454.45,306.95 456.97,304.71 457.82,299.61 C457.65,302.33 457.56,304.71 457.82,305.73 C458.07,306.54 458.91,306.54 459.50,306.41 M461.50,306.19 C461.84,304.15 462.18,301.77 462.63,299.39 M462.41,302.11 C463.77,300.07 466.60,299.05 470.00,299.52 M478.22,300.35 C476.63,298.85 472.90,298.99 471.78,301.91 C470.94,304.63 473.37,306.33 475.70,306.13 C476.91,305.99 477.85,305.65 478.50,305.17 M481.94,295.59 C481.28,298.99 480.39,302.39 479.50,305.79 M480.06,302.39 C481.17,300.01 484.50,298.65 486.72,299.33 C488.39,300.01 487.50,303.07 487.50,304.77 C487.50,305.79 488.61,305.99 489.50,305.79 M496.51,300.48 C495.20,298.44 491.30,298.44 490.26,301.84 C489.57,304.56 492.17,306.12 494.34,304.90 C495.90,303.88 496.51,301.50 496.77,299.12 C496.59,301.50 496.42,304.22 496.77,305.24 C497.11,305.78 497.81,305.72 498.50,305.44 M506.03,299.61 C504.63,298.39 500.90,298.25 500.25,299.82 C499.78,301.31 505.57,301.65 506.31,303.35 C506.97,305.05 503.70,305.73 501.83,305.46 C500.90,305.33 500.06,304.99 499.50,304.58 M508.75,302.08 C512.50,302.22 517.75,301.74 520.00,300.38 C520.75,298.68 515.50,298.00 511.75,299.02 C508.00,300.04 507.25,303.10 510.25,304.46 C513.25,305.55 517.75,305.28 521.50,304.74" stroke="#1f2db8" stroke-width="1.9"/>
</g></svg>
</body></html>
